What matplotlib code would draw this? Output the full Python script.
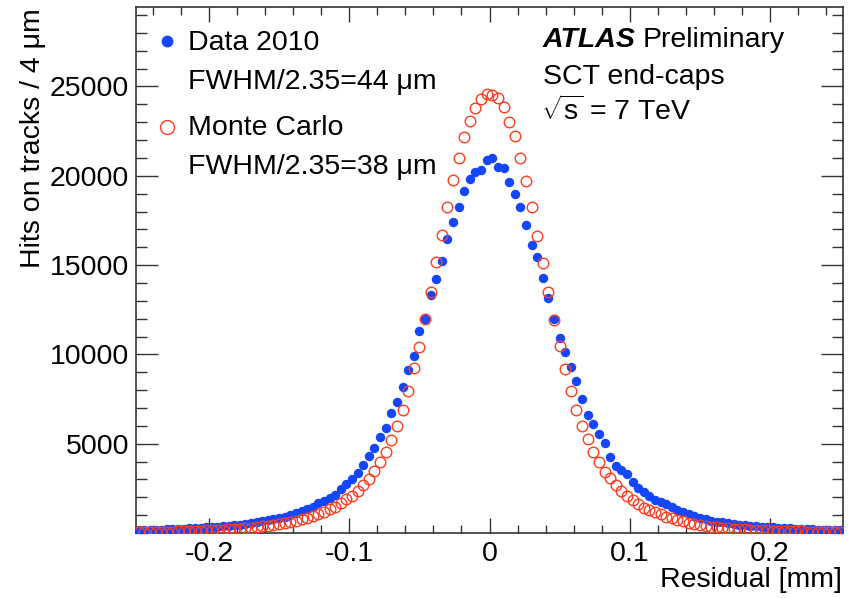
import numpy as np
import matplotlib
matplotlib.use("Agg")
import matplotlib.pyplot as plt
from matplotlib.ticker import MultipleLocator, FixedLocator

plt.rcParams['font.family'] = ['Liberation Sans', 'DejaVu Sans']
plt.rcParams['mathtext.fontset'] = 'custom'
plt.rcParams['mathtext.rm'] = 'Liberation Sans'
plt.rcParams['mathtext.it'] = 'Liberation Sans:italic'

# histogram binning: 4 um bins, centres from -0.250 to 0.250 mm
bin_first = -0.250
bin_width = 0.004
n_bins = 126
residual = bin_first + bin_width * np.arange(n_bins)

# Data 2010 (hits per bin)
data_2010 = [
    165, 170, 178, 186, 195, 205, 215, 226, 240, 255,
    270, 288, 308, 328, 350, 375, 405, 435, 465, 505,
    548, 595, 645, 700, 760, 825, 915, 1008, 1100, 1230,
    1345, 1475, 1660, 1790, 1940, 2130, 2450,
    2740, 3000, 3340, 3810, 4330, 4780, 5360, 5900, 6700, 7340,
    8190, 9130, 9910, 11330, 11980, 13330, 14210, 15230, 16460, 17430,
    18270, 19170, 19810, 20230, 20330, 20890,
    20980, 20480, 20420, 19640, 18980, 18270, 17250, 16130, 15470, 14260,
    13140, 11970, 10940, 10150, 9310, 8510, 7500, 6610, 6090, 5540,
    5060, 4270, 3770, 3530, 3290, 2840, 2540,
    2315, 2070, 1850, 1715, 1605, 1475, 1290, 1160, 1045, 950,
    860, 765, 690, 640, 590, 545, 505, 470, 440, 410,
    380, 355, 330, 310, 290, 270, 255, 240, 225, 212,
    200, 188, 176, 165, 155, 145,
]

# Monte Carlo (hits per bin)
monte_carlo = [
    55, 58, 62, 66, 71, 77, 83, 90, 98, 107,
    117, 128, 140, 153, 168, 185, 205, 226, 250, 275,
    302, 332, 365, 400, 440, 485, 540, 615, 690, 765,
    860, 950, 1065, 1195, 1325, 1475, 1680,
    1880, 2080, 2370, 2690, 3020, 3490, 3960, 4560, 5210, 5990,
    6890, 7970, 9220, 10430, 11980, 13510, 15160, 16690, 18270, 19770,
    21020, 22190, 23090, 23780, 24290, 24580,
    24530, 24340, 23840, 23030, 22230, 21020, 19710, 18270, 16650, 15100,
    13510, 11930, 10490, 9170, 7950, 6890, 5990, 5245, 4520, 3960,
    3435, 3060, 2690, 2350, 2070, 1830, 1630,
    1420, 1290, 1160, 1045, 915, 820, 730, 655, 565, 490,
    435, 395, 360, 328, 300, 275, 250, 228, 208, 190,
    174, 160, 147, 135, 124, 114, 105, 97, 90, 83,
    77, 71, 66, 61, 57, 53,
]

blue = '#1446ff'
red = '#ff3c1e'
W, H = 858, 598
fs = 20.5

fig = plt.figure(figsize=(W / 100, H / 100), dpi=100)
ax = fig.add_axes([136 / W, 1 - 533 / H, (843 - 136) / W, (533 - 7) / H])

ax.plot(residual, data_2010, 'o', color=blue, ms=6.8, mew=0, zorder=3)
ax.plot(residual, monte_carlo, 'o', mfc='none', mec=red, ms=7.6, mew=1.0, zorder=4)

ax.set_xlim(-0.252, 0.252)
ax.set_ylim(0, 29450)

ax.xaxis.set_major_locator(FixedLocator([-0.2, -0.1, 0, 0.1, 0.2]))
ax.xaxis.set_minor_locator(MultipleLocator(0.02))
ax.set_xticklabels(['-0.2', '-0.1', '0', '0.1', '0.2'])
ax.yaxis.set_major_locator(FixedLocator([5000, 10000, 15000, 20000, 25000]))
ax.yaxis.set_minor_locator(MultipleLocator(1000))

ax.tick_params(which='both', direction='in', top=True, right=True,
               labelsize=fs, width=1.0, color='#333333')
ax.tick_params(axis='x', which='major', length=11, pad=6)
ax.tick_params(axis='x', which='minor', length=5.5)
ax.tick_params(axis='y', which='major', length=16, pad=5)
ax.tick_params(axis='y', which='minor', length=8)
for s in ax.spines.values():
    s.set_linewidth(1.2)
    s.set_color('#333333')


def px(x, y):
    return x / W, 1 - y / H


fig.text(*px(842, 587), 'Residual [mm]', ha='right', va='baseline', fontsize=fs)
fig.text(*px(33, 8), 'Hits on tracks / 4 μm', ha='center', va='top',
         rotation=90, fontsize=fs)

# legend
fig.lines.append(plt.Line2D([166.7 / W], [1 - 40.7 / H], marker='o', color=blue,
                            ms=8.5, mew=0, transform=fig.transFigure))
fig.lines.append(plt.Line2D([166.7 / W], [1 - 126.7 / H], marker='o', mfc='none',
                            mec=red, ms=10, mew=1.0, transform=fig.transFigure))
fig.text(*px(188, 50), 'Data 2010', fontsize=fs, va='baseline')
fig.text(*px(188, 89), 'FWHM/2.35=44 μm', fontsize=fs, va='baseline')
fig.text(*px(188, 135), 'Monte Carlo', fontsize=fs, va='baseline')
fig.text(*px(188, 174), 'FWHM/2.35=38 μm', fontsize=fs, va='baseline')

# experiment label
fig.text(*px(543, 47), 'ATLAS', fontsize=fs, weight='bold', style='italic', va='baseline')
fig.text(*px(643, 47), 'Preliminary', fontsize=fs, va='baseline')
fig.text(*px(543, 84), 'SCT end-caps', fontsize=fs, va='baseline')
fig.text(*px(541, 120), r'$\sqrt{\mathrm{s}}$ = 7 TeV', fontsize=fs, va='baseline')

fig.savefig('out.png', dpi=100)
